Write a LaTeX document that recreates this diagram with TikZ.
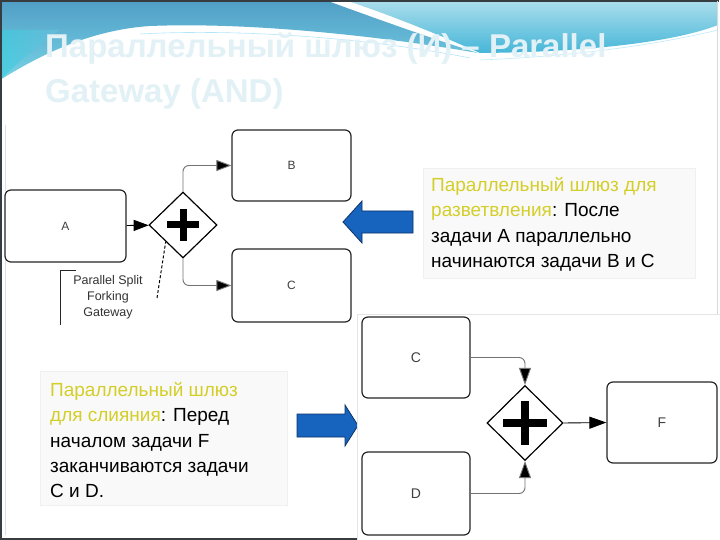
\documentclass[tikz,border=0pt]{standalone}
\usepackage{fontspec}
\setmainfont{Liberation Sans}
\usetikzlibrary{arrows.meta,shapes.geometric,calc}
\definecolor{yel}{RGB}{212,206,40}
\definecolor{arrblue}{RGB}{22,100,190}
\definecolor{arrdark}{RGB}{15,50,105}
\definecolor{framec}{RGB}{55,60,65}
\definecolor{conn}{RGB}{115,115,115}
\definecolor{titlec}{RGB}{226,241,246}
\definecolor{panelc}{RGB}{249,249,249}
\begin{document}
\begin{tikzpicture}[x=1pt,y=-1pt,
  task/.style={draw=black!85, line width=1.2pt, rounded corners=6pt, fill=white,
    font=\fontsize{12}{14}\selectfont, text=black!75, inner sep=0pt},
  taskb/.style={task, font=\fontsize{14}{16}\selectfont},
  gw/.style={draw=black, line width=1.2pt, diamond, fill=white, inner sep=0pt},
  flow/.style={draw=conn, line width=0.9pt, rounded corners=6pt,
    -{Triangle[length=15pt,width=11pt,fill=black]}},
  flowk/.style={draw=black, line width=0.9pt, -{Triangle[length=15pt,width=11pt]}},
  bigtip/.style={-{Triangle[length=17pt,width=12pt,fill=black]}},
  panel/.style={fill=panelc, draw=black!6, line width=0.6pt, inner sep=0pt},
  txt/.style={align=left, inner sep=0pt, font=\fontsize{19}{25.4}\selectfont, text=black},
  bigarrow/.style={fill=arrblue, draw=arrdark, line width=0.8pt, line join=miter},
  plusbar/.style={line width=7pt, black}
]
\useasboundingbox (0,0) rectangle (720,540);
\fill[white] (0,0) rectangle (720,540);
% top decorative waves
\shade[top color={rgb,255:red,80;green,158;blue,198}, bottom color={rgb,255:red,120;green,212;blue,230}]
  (0,0) -- (325,0) .. controls (380,20) and (430,38) .. (478,53)
  .. controls (380,36) and (250,22) .. (150,26)
  .. controls (90,30) and (40,55) .. (0,80) -- cycle;
\shade[left color={rgb,255:red,60;green,205;blue,222}, right color={rgb,255:red,110;green,190;blue,220}, opacity=0.7]
  (0,30) -- (60,30) .. controls (40,45) and (20,60) .. (0,80) -- cycle;
\shade[top color={rgb,255:red,172;green,222;blue,236}, bottom color={rgb,255:red,70;green,182;blue,216}]
  (345,0) -- (718,0) -- (718,25) .. controls (680,40) and (600,52) .. (480,53)
  .. controls (440,35) and (390,15) .. (345,0) -- cycle;
\draw[white!70!cyan, line width=0.6pt] (140,34) .. controls (250,28) and (380,40) .. (470,58);
\draw[white!75!cyan, line width=0.6pt] (480,60) .. controls (580,56) and (660,44) .. (718,30);
% frame
\draw[framec, line width=2pt] (1,540) -- (1,1) -- (719,1);
\draw[framec, line width=2pt] (0,539) -- (360,539);
\draw[black!15, line width=1pt] (717.5,1) -- (717.5,540);
\draw[black!12, line width=0.6pt] (5,125) -- (5,535);
% title
\node[anchor=north west, align=left, inner sep=0pt, text=titlec,
  font=\fontsize{33}{45}\selectfont\bfseries] (title) at (45,33)
  {Параллельный шлюз (И) – Parallel\\Gateway (AND)};

% ---------- top diagram (split) ----------
\node[task, minimum width=121pt, minimum height=72pt] (A) at (65.5,226) {A};
\node[gw, minimum width=68pt, minimum height=66pt] (G1) at (183,225) {};
\draw[plusbar] ($(G1)+(-16,0)$) -- ($(G1)+(16,0)$);
\draw[plusbar] ($(G1)+(0,-16)$) -- ($(G1)+(0,16)$);
\node[task, minimum width=119pt, minimum height=71pt] (B) at (291.5,165.5) {B};
\node[task, minimum width=119pt, minimum height=73pt] (C) at (291.5,285.5) {C};
\draw[flowk] (A) -- (G1);
\draw[flow] (G1.north) |- (B.west);
\draw[flow] (G1.south) |- (C.west);
% annotation
\coordinate (brT) at (76,270);
\coordinate (brB) at (60,325);
\draw[black!85, line width=0.9pt] (brT) -- (brB |- brT) -- (brB);
\node[align=center, inner sep=0pt, font=\fontsize{12.5}{16}\selectfont, text=black!80] (ann) at (108,297)
  {Parallel Split\\Forking\\Gateway};
\coordinate (dashS) at (157,298);
\draw[black, line width=1pt, dash pattern=on 3pt off 2pt] (dashS) -- (G1.south west);

% text panel 1
\node[panel, minimum width=272pt, minimum height=110pt, anchor=north west] (P1) at (423,168) {};
\node[txt, anchor=north west] (T1) at (431,177)
  {\textcolor{yel}{Параллельный шлюз для}\\\textcolor{yel}{разветвления}: После\\задачи A параллельно\\начинаются задачи B и C};
% big arrow left
\draw[bigarrow] (343,222) -- (362,201) -- (362,211) -- (413,211) -- (413,233) -- (362,233) -- (362,243) -- cycle;

% text panel 2
\node[panel, minimum width=247pt, minimum height=134pt, anchor=north west] (P2) at (40,371) {};
\node[txt, anchor=north west] (T2) at (50,382)
  {\textcolor{yel}{Параллельный шлюз}\\\textcolor{yel}{для слияния}: Перед\\началом задачи F\\заканчиваются задачи\\C и D.};
% big arrow right
\draw[bigarrow] (358,425.5) -- (345,405) -- (345,414) -- (297,414) -- (297,437) -- (345,437) -- (345,446) -- cycle;

% ---------- bottom diagram (join) ----------
\fill[white] (357,314) rectangle (720,540);
\draw[black!10, line width=0.6pt] (357,540) -- (357,314) -- (720,314);
\node[taskb, minimum width=108pt, minimum height=81pt] (C2) at (416,357.5) {C};
\node[taskb, minimum width=108pt, minimum height=83pt] (D) at (416,493.5) {D};
\node[gw, minimum width=76pt, minimum height=75pt] (G2) at (525,423) {};
\draw[plusbar, line width=8pt] ($(G2)+(-22,0)$) -- ($(G2)+(22,0)$);
\draw[plusbar, line width=8pt] ($(G2)+(0,-22)$) -- ($(G2)+(0,22)$);
\node[taskb, minimum width=110pt, minimum height=81pt] (F) at (662,422.5) {F};
\draw[flow, bigtip] (C2.east) -| (G2.north);
\draw[flow, bigtip] (D.east) -| (G2.south);
\draw[flowk, bigtip] (G2.east) -- (F.west);
\end{tikzpicture}
\end{document}
